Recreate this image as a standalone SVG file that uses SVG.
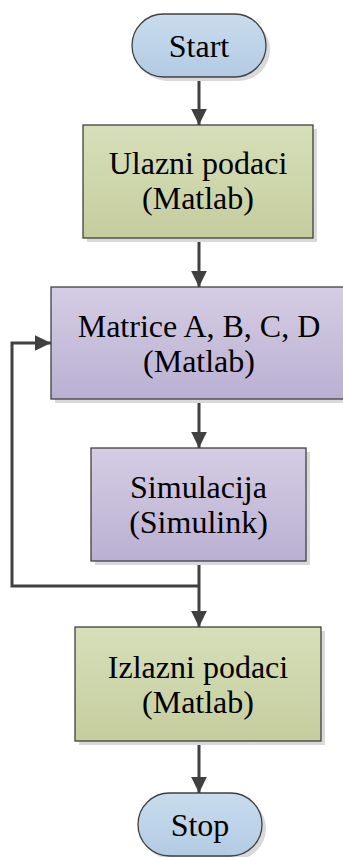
<svg xmlns="http://www.w3.org/2000/svg" width="343" height="857" viewBox="0 0 343 857">
<style>
.t{font-family:"Liberation Serif","Times New Roman",serif;font-size:32px;fill:#000;text-anchor:middle}
.s{fill:#d9d9d9}
.b{stroke:#404040;stroke-width:1.3}
.c{fill:none;stroke:#404040;stroke-width:3}
</style>
<defs>
<linearGradient id="gb" x1="0" y1="0" x2="0" y2="1"><stop offset="0" stop-color="#c9dcee"/><stop offset="1" stop-color="#b2cbe3"/></linearGradient>
<linearGradient id="gg" x1="0" y1="0" x2="0" y2="1"><stop offset="0" stop-color="#d7dfba"/><stop offset="1" stop-color="#c5cd9e"/></linearGradient>
<linearGradient id="gp" x1="0" y1="0" x2="0" y2="1"><stop offset="0" stop-color="#d5cde4"/><stop offset="1" stop-color="#bab0d2"/></linearGradient>
<marker id="ah" markerWidth="5.5" markerHeight="5.4" refX="5.5" refY="2.7" orient="auto" markerUnits="strokeWidth"><path d="M0,0 L5.5,2.7 L0,5.4 Z" fill="#404040"/></marker>
</defs>
<g id="connectors">
<line class="c" x1="199" y1="77" x2="199" y2="125" marker-end="url(#ah)"/>
<line class="c" x1="199" y1="238" x2="199" y2="287" marker-end="url(#ah)"/>
<line class="c" x1="199" y1="399" x2="199" y2="448" marker-end="url(#ah)"/>
<line class="c" x1="199" y1="561" x2="199" y2="627" marker-end="url(#ah)"/>
<polyline class="c" points="199,586 12,586 12,343 51,343" marker-end="url(#ah)"/>
<line class="c" x1="199" y1="741" x2="199" y2="793" marker-end="url(#ah)"/>
</g>
<g id="start">
<rect class="s" x="136" y="18" width="134" height="63" rx="31.5"/>
<rect class="b" x="132" y="14" width="134" height="63" rx="31.5" fill="url(#gb)"/>
<text class="t" x="199" y="57">Start</text>
</g>
<g id="ulazni">
<rect class="s" x="87" y="129" width="230" height="113"/>
<rect class="b" x="83" y="125" width="230" height="113" fill="url(#gg)"/>
<text class="t" x="198" y="174">Ulazni podaci</text>
<text class="t" x="198" y="209">(Matlab)</text>
</g>
<g id="matrice">
<rect class="s" x="55" y="291" width="296" height="112"/>
<rect class="b" x="51" y="287" width="296" height="112" fill="url(#gp)"/>
<text class="t" x="199" y="337">Matrice A, B, C, D</text>
<text class="t" x="199" y="372">(Matlab)</text>
</g>
<g id="simulacija">
<rect class="s" x="95" y="452" width="215" height="113"/>
<rect class="b" x="91" y="448" width="215" height="113" fill="url(#gp)"/>
<text class="t" x="198.5" y="498">Simulacija</text>
<text class="t" x="198.5" y="533">(Simulink)</text>
</g>
<g id="izlazni">
<rect class="s" x="79" y="631" width="246" height="114"/>
<rect class="b" x="75" y="627" width="246" height="114" fill="url(#gg)"/>
<text class="t" x="198" y="678">Izlazni podaci</text>
<text class="t" x="198" y="713">(Matlab)</text>
</g>
<g id="stop">
<rect class="s" x="142" y="797" width="124" height="63" rx="31.5"/>
<rect class="b" x="138" y="793" width="124" height="63" rx="31.5" fill="url(#gb)"/>
<text class="t" x="200" y="836">Stop</text>
</g>
</svg>
